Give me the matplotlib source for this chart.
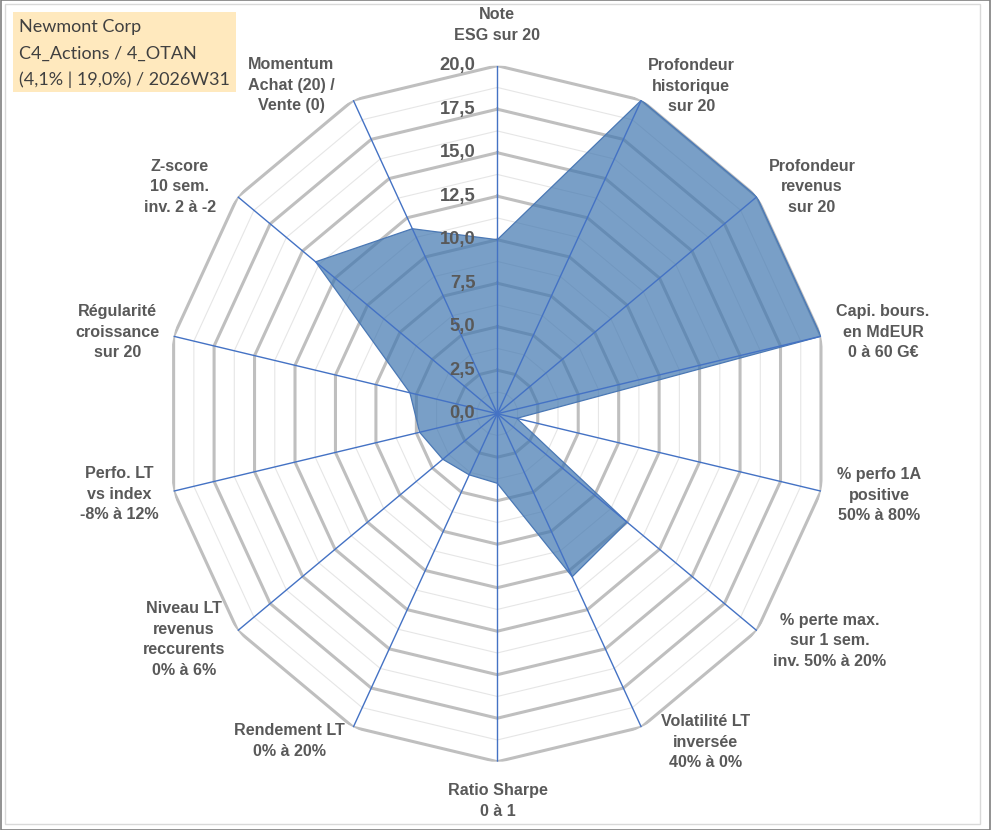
import matplotlib.pyplot as plt
import numpy as np
from matplotlib.patches import Rectangle

# ---------------- data ----------------
categories = [
    'Note\nESG sur 20',
    'Profondeur\nhistorique\nsur 20',
    'Profondeur\nrevenus\nsur 20',
    'Capi. bours.\nen MdEUR\n0 à 60 G€',
    '% perfo 1A\npositive\n50% à 80%',
    '% perte max.\nsur 1 sem.\ninv. 50% à 20%',
    'Volatilité LT\ninversée\n40% à 0%',
    'Ratio Sharpe\n0 à 1',
    'Rendement LT\n0% à 20%',
    'Niveau LT\nrevenus\nreccurents\n0% à 6%',
    'Perfo. LT\nvs index\n-8% à 12%',
    'Régularité\ncroissance\nsur 20',
    'Z-score\n10 sem.\ninv. 2 à -2',
    'Momentum\nAchat (20) /\nVente (0)',
]
values = [10.0, 20.0, 20.0, 20.0, 1.2, 10.0, 10.4, 4.0, 3.9, 4.2, 4.8, 5.4, 14.0, 11.8]
major_ticks = [0, 2.5, 5, 7.5, 10, 12.5, 15, 17.5, 20]
tick_labels = ['0,0', '2,5', '5,0', '7,5', '10,0', '12,5', '15,0', '17,5', '20,0']
minor_ticks = [1.25, 3.75, 6.25, 8.75, 11.25, 13.75, 16.25, 18.75]
title_lines = ['Newmont Corp', 'C4_Actions / 4_OTAN', '(4,1% | 19,0%) / 2026W31']

# label offsets from the outer vertex, in pixels
label_dx = [0, 50, 55, 62, 58, 73, 64, 1, -64, -54, -54, -56, -58, -62]
label_dy = [41, 14, 10, 4, -4, -10, -15, -39, -14, -9, -3, 4, 10, 15]

txt_col = '#595959'
n = len(categories)
theta = np.arange(n) * 2 * np.pi / n
theta_c = np.append(theta, theta[0])

fig = plt.figure(figsize=(9.91, 8.30), dpi=100)
W, H = 991, 830
cx, cy, rx, ry = 497.3, 830 - 413.7, 332, 348
ax = fig.add_axes([(cx - rx) / W, (cy - ry) / H, 2 * rx / W, 2 * ry / H], projection='polar')
ax.set_aspect('auto')
ax.set_theta_zero_location('N')
ax.set_theta_direction(-1)
ax.set_ylim(0, 20)
ax.grid(False)
ax.spines['polar'].set_visible(False)
ax.set_xticks([])
ax.set_yticks([])
ax.patch.set_alpha(0)

# grid polygons
for r in minor_ticks:
    ax.plot(theta_c, [r] * (n + 1), color='#E6E6E6', lw=0.8, zorder=1)
for r in major_ticks[1:]:
    ax.plot(theta_c, [r] * (n + 1), color='#BFBFBF', lw=2.2, zorder=1.5)

# data
vals_c = np.append(values, values[0])
ax.fill(theta_c, vals_c, color='#4177B0', alpha=0.7, zorder=2, lw=0)
ax.plot(theta_c, vals_c, color='#4A78B5', lw=0.9, zorder=2.5)

# spokes
for t in theta:
    ax.plot([t, t], [0, 20], color='#4472C4', lw=1.0, zorder=3)

# scale labels
for r, lab in zip(major_ticks, tick_labels):
    ax.annotate(lab, xy=(0, r), xytext=(-22, 0), textcoords='offset pixels',
                ha='right', va='center', fontsize=13.2, fontweight='bold',
                color=txt_col, family='Liberation Sans', zorder=4)

# category labels
for t, lab, dx, dy in zip(theta, categories, label_dx, label_dy):
    ax.annotate(lab, xy=(t, 20), xytext=(dx, dy), textcoords='offset pixels',
                ha='center', va='center', fontsize=11.6, fontweight='bold',
                color=txt_col, family='Liberation Sans', linespacing=1.47,
                annotation_clip=False)

# title box
fig.patches.append(Rectangle((12.7 / W, 1 - 91.7 / H), (236 - 12.7) / W, 80 / H,
                             transform=fig.transFigure, facecolor='#FFE9BE',
                             edgecolor='none', zorder=0))
for i, line in enumerate(title_lines):
    fig.text(19 / W, 1 - (26.7 + 26.6 * i) / H, line, ha='left', va='center',
             fontsize=13, color='#404040', family='Lato')

# frames
fig.patches.append(Rectangle((5 / W, 6 / H), 975 / W, 820 / H, transform=fig.transFigure,
                             facecolor='none', edgecolor='#D9D9D9', lw=1.0))
fig.patches.append(Rectangle((0.5 / W, 0.5 / H), 989 / W, 829 / H, transform=fig.transFigure,
                             facecolor='none', edgecolor='#7F7F7F', lw=1.2))

fig.savefig('out.png', dpi=100)
